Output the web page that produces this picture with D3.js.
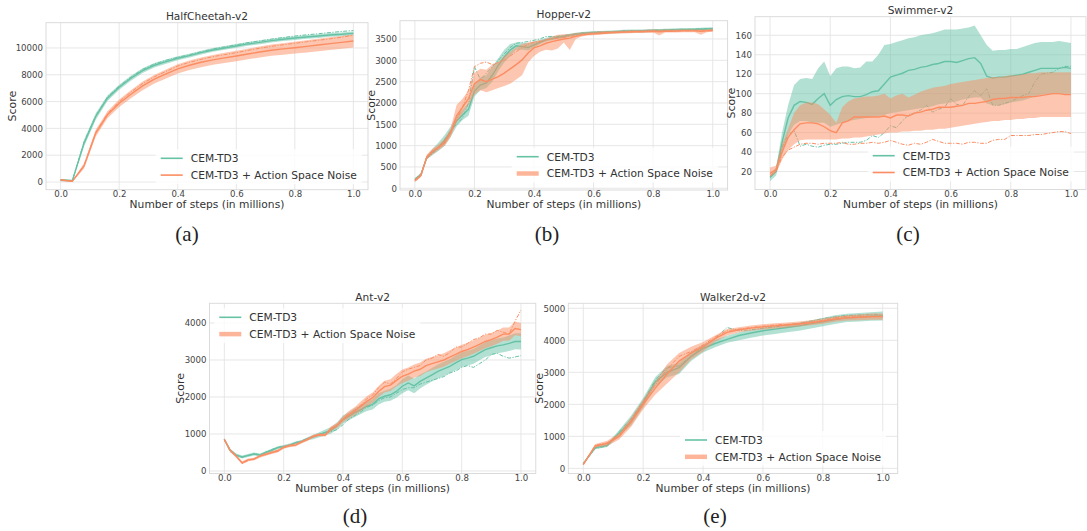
<!DOCTYPE html>
<html>
<head>
<meta charset="utf-8">
<script src="https://cdn.jsdelivr.net/npm/d3@7"></script>
<style>
  body { margin: 0; background: #fff; }
  svg { display: block; }
</style>
</head>
<body>
<svg id="fig" width="1087" height="531"></svg>
<script>
// ---------- data ----------
const seriesNames = ["CEM-TD3", "CEM-TD3 + Action Space Noise"];
const envNames = ["HalfCheetah-v2", "Hopper-v2", "Swimmer-v2", "Ant-v2", "Walker2d-v2"];
const captions = ["(a)", "(b)", "(c)", "(d)", "(e)"];
const xAxisLabel = "Number of steps (in millions)";
const yAxisLabel = "Score";

const xTicks = [0, 0.2, 0.4, 0.6, 0.8, 1.0];
const yTicksCheetah = [0, 2000, 4000, 6000, 8000, 10000];
const yTicksHopper = [0, 500, 1000, 1500, 2000, 2500, 3000, 3500];
const yTicksSwimmer = [20, 40, 60, 80, 100, 120, 140, 160];
const yTicksAnt = [0, 1000, 2000, 3000, 4000];
const yTicksWalker = [0, 1000, 2000, 3000, 4000, 5000];

// evaluation steps (millions)
const stepsCoarse = [0, 0.04, 0.08, 0.12, 0.16, 0.2, 0.24, 0.28, 0.32, 0.36, 0.4, 0.44, 0.48,
  0.52, 0.56, 0.6, 0.64, 0.68, 0.72, 0.76, 0.8, 0.84, 0.88, 0.92, 0.96, 1.0];
const stepsFine = [0, 0.02, 0.04, 0.06, 0.08, 0.1, 0.12, 0.14, 0.16, 0.18,
  0.2, 0.22, 0.24, 0.26, 0.28, 0.3, 0.32, 0.34, 0.36, 0.38,
  0.4, 0.42, 0.44, 0.46, 0.48, 0.5, 0.52, 0.54, 0.56, 0.58,
  0.6, 0.62, 0.64, 0.66, 0.68, 0.7, 0.72, 0.74, 0.76, 0.78,
  0.8, 0.82, 0.84, 0.86, 0.88, 0.9, 0.92, 0.94, 0.96, 0.98, 1.0];

// HalfCheetah-v2
const cheetahTd3Mean = [150,100,2900,4890,6250,7070,7740,8310,8710,8980,9230,9430,9650,9850,10000,10150,10300,10420,10550,10650,10740,10820,10890,10970,11020,11090];
const cheetahTd3Lo = [60,40,2650,4650,6050,6880,7560,8130,8540,8820,9080,9290,9510,9710,9860,10010,10160,10280,10410,10510,10600,10680,10750,10830,10880,10950];
const cheetahTd3Hi = [230,170,3150,5130,6450,7260,7920,8490,8880,9140,9380,9570,9790,9990,10140,10290,10440,10560,10690,10790,10880,10960,11030,11110,11160,11230];
const cheetahTd3Alt = [160,110,3000,4950,6350,7150,7820,8400,8800,9080,9300,9500,9720,9920,10080,10230,10400,10530,10660,10780,10890,10980,11060,11150,11230,11300];
const cheetahNoiseMean = [150,50,1200,3650,5010,5880,6550,7170,7670,8060,8440,8710,8930,9110,9260,9400,9550,9700,9830,9930,10020,10120,10220,10320,10420,10520];
const cheetahNoiseLo = [80,0,1000,3400,4750,5600,6250,6850,7350,7730,8100,8360,8570,8740,8880,9010,9150,9290,9410,9500,9580,9670,9760,9850,9940,10030];
const cheetahNoiseHi = [220,110,1400,3900,5270,6160,6850,7490,7990,8390,8780,9060,9290,9480,9640,9790,9950,10110,10250,10360,10460,10570,10680,10790,10900,11010];
const cheetahNoiseAlt = [150,60,1250,3700,5100,6000,6700,7350,7850,8250,8650,8930,9150,9350,9500,9650,9820,9980,10120,10240,10350,10460,10570,10680,10800,10950];

// Hopper-v2
const hopperTd3Mean = [200,320,720,850,970,1120,1320,1580,1720,1850,
  2280,2420,2470,2650,2880,3080,3240,3340,3320,3300,
  3360,3420,3480,3510,3540,3560,3590,3610,3630,3640,
  3650,3655,3660,3665,3670,3680,3685,3690,3690,3695,
  3700,3700,3705,3710,3715,3720,3720,3725,3730,3735,3740];
const hopperTd3Lo = [170,280,680,780,880,1000,1200,1450,1600,1700,
  2150,2300,2350,2500,2750,2950,3100,3250,3250,3230,
  3300,3380,3440,3470,3500,3525,3555,3575,3595,3605,
  3615,3620,3625,3630,3635,3645,3650,3655,3655,3660,
  3665,3665,3670,3675,3680,3685,3685,3690,3695,3700,3705];
const hopperTd3Hi = [240,360,770,930,1080,1250,1450,1700,1850,2000,
  2450,2600,2650,2850,3050,3250,3380,3420,3420,3400,
  3440,3480,3530,3560,3580,3595,3625,3645,3665,3675,
  3685,3690,3695,3700,3705,3715,3720,3725,3725,3730,
  3735,3735,3740,3745,3750,3755,3755,3760,3765,3770,3775];
const hopperTd3Alt = [220,330,700,820,950,1150,1350,1500,1650,2000,
  2850,2550,2700,2850,3000,3150,3300,3400,3420,3440,
  3470,3500,3560,3560,3560,3580,3600,3620,3640,3650,
  3660,3665,3670,3675,3680,3690,3695,3700,3700,3705,
  3710,3710,3715,3720,3725,3730,3730,3735,3740,3745,3750];
const hopperNoiseMean = [180,300,730,870,960,1080,1300,1700,1900,2100,
  2450,2550,2500,2560,2620,2700,2800,2900,3010,3170,
  3290,3340,3400,3440,3470,3500,3520,3560,3590,3610,
  3620,3630,3640,3650,3655,3660,3665,3670,3670,3675,
  3680,3670,3680,3680,3685,3690,3690,3690,3680,3690,3700];
const hopperNoiseLo = [150,260,680,800,900,1000,1200,1550,1750,1950,
  2200,2300,2250,2300,2350,2400,2450,2550,2650,2950,
  3100,3200,3250,3230,3280,3420,3240,3500,3560,3580,
  3590,3600,3610,3620,3625,3630,3635,3640,3640,3645,
  3650,3580,3650,3650,3655,3660,3660,3660,3600,3660,3670];
const hopperNoiseHi = [220,340,790,930,1030,1160,1400,1950,2100,2300,
  2700,2800,2780,2900,2950,3100,3200,3300,3380,3420,
  3450,3470,3500,3560,3600,3610,3620,3640,3650,3660,
  3670,3680,3685,3690,3695,3700,3705,3710,3710,3715,
  3720,3715,3720,3720,3725,3730,3730,3730,3725,3730,3740];
const hopperNoiseAlt = [170,280,750,880,950,1050,1300,1600,1900,2300,
  2850,2930,2960,2900,2950,3000,3100,3200,3300,3380,
  3420,3440,3480,3500,3520,3540,3560,3580,3600,3620,
  3630,3640,3650,3660,3660,3665,3670,3675,3675,3680,
  3685,3680,3685,3685,3690,3695,3695,3695,3690,3695,3705];

// Swimmer-v2
const swimmerTd3Mean = [14,20,50,75,88,92,91,89,95,100,
  88,94,97,98,97,97,99,102,103,110,
  117,119,121,124,125,127,128,130,131,133,
  133,132,134,136,137,131,118,116,117,117,
  118,119,120,122,124,126,126,126,126,127,126];
const swimmerTd3Lo = [10,16,38,58,68,72,72,70,70,70,
  66,68,70,72,73,74,75,76,77,78,
  80,81,82,83,84,85,86,87,89,90,
  91,92,94,95,96,96,90,88,88,89,
  91,92,93,95,97,99,100,100,100,100,100];
const swimmerTd3Hi = [16,24,60,88,109,115,116,115,126,133,
  118,126,128,128,126,127,133,133,140,150,
  151,153,155,157,158,160,161,162,164,166,
  166,166,167,168,170,160,150,144,145,145,
  146,146,148,150,152,153,153,153,154,153,152];
const swimmerTd3Alt = [14,20,45,58,62,46,48,46,45,47,
  48,48,49,50,50,50,52,57,55,60,
  67,65,72,78,80,83,88,81,84,86,
  95,89,88,97,103,98,105,88,88,90,
  92,95,98,100,112,120,121,122,126,128,128];
const swimmerNoiseMean = [18,22,40,55,63,69,70,70,69,66,
  62,60,70,72,76,76,76,76,76,77,
  75,78,78,77,80,81,83,84,86,86,
  86,87,88,90,90,91,92,94,95,95,
  96,96,96,97,97,98,99,100,100,99,99];
const swimmerNoiseLo = [14,19,32,42,48,52,53,53,53,53,
  53,53,54,54,55,55,56,57,58,59,
  60,60,61,61,62,62,63,63,64,64,
  65,66,67,68,69,70,71,72,72,73,
  73,74,74,75,75,76,76,76,76,76,76];
const swimmerNoiseHi = [24,26,48,64,80,88,91,91,89,84,
  78,70,86,92,95,96,97,97,98,100,
  95,98,100,96,99,102,104,106,107,108,
  110,111,112,113,114,115,116,117,117,118,
  119,119,120,121,121,122,122,122,122,122,122];
const swimmerNoiseAlt = [16,20,35,42,45,48,49,49,48,49,
  49,49,50,48,48,49,49,50,49,50,
  52,50,48,47,49,48,50,53,51,49,
  49,49,48,50,50,49,49,52,53,53,
  57,57,57,57,58,58,59,60,61,61,59];

// Ant-v2
const antTd3Mean = [850,560,430,380,420,460,430,500,560,630,
  660,700,760,800,870,920,980,1040,1100,1220,
  1390,1480,1580,1660,1750,1800,1950,2020,2060,2150,
  2290,2380,2300,2420,2510,2600,2690,2760,2830,2920,
  3010,3050,3100,3190,3280,3330,3380,3410,3450,3500,3500];
const antTd3Lo = [810,520,390,340,380,420,390,460,520,590,
  620,660,720,760,830,860,910,960,1010,1120,
  1280,1370,1460,1540,1620,1660,1800,1870,1900,1980,
  2100,2180,2100,2230,2330,2420,2500,2570,2640,2720,
  2810,2850,2900,2990,3080,3130,3180,3210,3240,3290,3280];
const antTd3Hi = [890,600,470,420,460,500,470,540,600,670,
  700,740,800,840,910,980,1050,1120,1190,1320,
  1500,1590,1700,1780,1880,1940,2100,2170,2220,2320,
  2480,2580,2500,2610,2690,2780,2880,2950,3020,3120,
  3210,3250,3300,3390,3480,3530,3580,3610,3660,3720,3720];
const antTd3Alt = [850,520,420,370,410,470,440,510,580,640,
  670,700,770,810,880,940,990,1040,1060,1120,
  1250,1400,1500,1600,1720,1780,1900,1980,2000,2100,
  2200,2250,2250,2350,2400,2450,2500,2550,2650,2700,
  2800,2850,2800,2900,3000,3150,3180,3100,3050,3080,3120];
const antNoiseMean = [850,550,400,220,300,320,400,450,500,540,
  640,680,700,780,850,940,980,970,1150,1230,
  1400,1520,1620,1750,1880,1980,2150,2280,2320,2450,
  2560,2620,2700,2750,2850,2900,2950,3000,3080,3150,
  3230,3280,3350,3420,3500,3550,3620,3700,3700,3850,3820];
const antNoiseLo = [810,510,360,180,260,280,360,410,460,500,
  600,640,660,740,810,900,940,930,1090,1160,
  1320,1420,1510,1620,1740,1840,2000,2120,2160,2280,
  2380,2440,2520,2570,2670,2720,2770,2820,2900,2970,
  3050,3100,3170,3240,3320,3370,3440,3520,3520,3670,3640];
const antNoiseHi = [890,590,440,260,340,360,440,490,540,580,
  680,720,740,820,890,980,1020,1010,1210,1300,
  1480,1620,1730,1880,2020,2120,2300,2440,2480,2620,
  2740,2800,2880,2930,3030,3080,3130,3180,3260,3330,
  3410,3460,3530,3600,3680,3730,3800,3880,3880,4030,4000];
const antNoiseAlt = [850,560,410,200,280,330,410,440,500,560,
  630,690,720,790,860,920,1000,960,1100,1250,
  1420,1550,1650,1780,1950,2050,2250,2400,2350,2500,
  2680,2750,2800,2850,3000,3050,3150,3100,3200,3350,
  3350,3450,3550,3600,3700,3700,3800,3750,3700,4050,4350];

// Walker2d-v2
const walkerTd3Mean = [150,650,720,1100,1480,2050,2700,3000,3150,3500,3750,3900,4030,4150,4230,4300,4350,4400,4450,4520,4580,4650,4700,4720,4750,4760];
const walkerTd3Lo = [120,600,670,1000,1350,1900,2550,2850,2950,3350,3620,3780,3920,4000,4080,4150,4200,4250,4300,4370,4440,4510,4570,4590,4610,4620];
const walkerTd3Hi = [180,700,780,1200,1650,2200,2850,3200,3300,3650,3870,4020,4140,4250,4330,4400,4450,4500,4550,4620,4700,4780,4830,4850,4880,4900];
const walkerTd3Alt = [150,620,700,1150,1550,2100,2750,3150,3200,3500,3800,4050,4400,4300,4330,4380,4420,4480,4530,4600,4680,4730,4780,4790,4800,4800];
const walkerNoiseMean = [120,700,780,1000,1450,2000,2500,2950,3350,3600,3800,4050,4250,4330,4380,4420,4450,4480,4510,4550,4600,4660,4700,4720,4740,4740];
const walkerNoiseLo = [100,650,700,900,1300,1850,2300,2650,3000,3400,3650,3950,4150,4250,4300,4340,4370,4400,4430,4470,4520,4580,4620,4630,4640,4640];
const walkerNoiseHi = [150,760,860,1100,1600,2150,2700,3250,3600,3800,3950,4150,4350,4410,4460,4500,4530,4560,4590,4630,4680,4740,4780,4810,4840,4840];
const walkerNoiseAlt = [120,720,800,1050,1500,2050,2600,3100,3500,3650,3850,4100,4300,4350,4400,4440,4480,4500,4520,4570,4620,4700,4750,4760,4730,4750];

// ---------- assemble panels ----------
const panels = [
  { steps: stepsCoarse, yTicks: yTicksCheetah,
    series: [
      { mean: cheetahTd3Mean, lo: cheetahTd3Lo, hi: cheetahTd3Hi, alt: cheetahTd3Alt },
      { mean: cheetahNoiseMean, lo: cheetahNoiseLo, hi: cheetahNoiseHi, alt: cheetahNoiseAlt } ] },
  { steps: stepsFine, yTicks: yTicksHopper,
    series: [
      { mean: hopperTd3Mean, lo: hopperTd3Lo, hi: hopperTd3Hi, alt: hopperTd3Alt },
      { mean: hopperNoiseMean, lo: hopperNoiseLo, hi: hopperNoiseHi, alt: hopperNoiseAlt } ] },
  { steps: stepsFine, yTicks: yTicksSwimmer,
    series: [
      { mean: swimmerTd3Mean, lo: swimmerTd3Lo, hi: swimmerTd3Hi, alt: swimmerTd3Alt },
      { mean: swimmerNoiseMean, lo: swimmerNoiseLo, hi: swimmerNoiseHi, alt: swimmerNoiseAlt } ] },
  { steps: stepsFine, yTicks: yTicksAnt,
    series: [
      { mean: antTd3Mean, lo: antTd3Lo, hi: antTd3Hi, alt: antTd3Alt },
      { mean: antNoiseMean, lo: antNoiseLo, hi: antNoiseHi, alt: antNoiseAlt } ] },
  { steps: stepsCoarse, yTicks: yTicksWalker,
    series: [
      { mean: walkerTd3Mean, lo: walkerTd3Lo, hi: walkerTd3Hi, alt: walkerTd3Alt },
      { mean: walkerNoiseMean, lo: walkerNoiseLo, hi: walkerNoiseHi, alt: walkerNoiseAlt } ] }
];

// ---------- layout ----------
const layout = [
  { box: { l: 46, t: 22.7, r: 368, b: 189.7 }, yDomain: [-573, 11884],
    legend: { x: 160.7, y: 158.3, thick: false }, caption: [187, 241] },
  { box: { l: 400, t: 20.7, r: 727.6, b: 190 }, yDomain: [-40, 3929],
    legend: { x: 516.7, y: 156.7, thick: true }, caption: [547, 241] },
  { box: { l: 755, t: 16.7, r: 1086, b: 189.5 }, yDomain: [1.5, 179.1],
    legend: { x: 872.7, y: 155.7, thick: false }, caption: [908, 241] },
  { box: { l: 209.5, t: 303.3, r: 535.8, b: 473.5 }, yDomain: [-68, 4532],
    legend: { x: 219.3, y: 317.3, thick: true }, caption: [355, 523] },
  { box: { l: 568.3, t: 303.3, r: 897.7, b: 473.5 }, yDomain: [-160, 5156],
    legend: { x: 685, y: 440, thick: true }, caption: [715, 523] }
];

const seriesColors = ["#66c2a5", "#fc8d62"];
const sansFont = "'DejaVu Sans', sans-serif";
const textColor = "#333";
const svg = d3.select("#fig");

function drawPanel(panel, lay, idx) {
  const { l, t, r, b } = lay.box;
  const x = d3.scaleLinear().domain([-0.05, 1.05]).range([l, r]);
  const y = d3.scaleLinear().domain(lay.yDomain).range([b, t]);
  const g = svg.append("g");

  // grid
  g.append("g").selectAll("line").data(xTicks).join("line")
    .attr("x1", d => x(d)).attr("x2", d => x(d)).attr("y1", t).attr("y2", b)
    .attr("stroke", "#e4e4e4").attr("stroke-width", 0.9);
  g.append("g").selectAll("line").data(panel.yTicks).join("line")
    .attr("x1", l).attr("x2", r).attr("y1", d => y(d)).attr("y2", d => y(d))
    .attr("stroke", "#e4e4e4").attr("stroke-width", 0.9);
  g.append("rect").attr("x", l).attr("y", t).attr("width", r - l).attr("height", b - t)
    .attr("fill", "none").attr("stroke", "#d8d8d8").attr("stroke-width", 0.9);

  // bands, mean curves and best-run curves
  panel.series.forEach((s, i) => {
    const col = seriesColors[i];
    const pts = panel.steps.map((st, k) => ({ x: st, lo: s.lo[k], hi: s.hi[k], m: s.mean[k], a: s.alt[k] }));
    g.append("path").datum(pts)
      .attr("d", d3.area().x(d => x(d.x)).y0(d => y(d.lo)).y1(d => y(d.hi)))
      .attr("fill", col).attr("fill-opacity", 0.5).attr("stroke", "none");
    g.append("path").datum(pts)
      .attr("d", d3.line().x(d => x(d.x)).y(d => y(d.m)))
      .attr("fill", "none").attr("stroke", col).attr("stroke-width", 1.4);
    g.append("path").datum(pts)
      .attr("d", d3.line().x(d => x(d.x)).y(d => y(d.a)))
      .attr("fill", "none").attr("stroke", col).attr("stroke-width", 1)
      .attr("stroke-dasharray", "4,1.5,1.2,1.5");
  });

  // axes
  const xa = g.append("g").attr("transform", `translate(0,${b})`)
    .call(d3.axisBottom(x).tickValues(xTicks).tickFormat(d3.format(".1f")).tickSize(0).tickPadding(1));
  xa.select(".domain").remove();
  xa.selectAll("text").attr("font-size", 8.6).attr("font-family", sansFont).attr("fill", "#444");

  const ya = g.append("g").attr("transform", `translate(${l},0)`)
    .call(d3.axisLeft(y).tickValues(panel.yTicks).tickFormat(d3.format("d")).tickSize(0).tickPadding(3));
  ya.select(".domain").remove();
  ya.selectAll("text").attr("font-size", 8.6).attr("font-family", sansFont).attr("fill", "#444");
  let maxW = 0;
  ya.selectAll("text").each(function () { maxW = Math.max(maxW, this.getComputedTextLength()); });

  // labels
  g.append("text").attr("x", (l + r) / 2).attr("y", b + 18)
    .attr("text-anchor", "middle").attr("font-size", 10.7).attr("font-family", sansFont)
    .attr("fill", textColor).text(xAxisLabel);
  const yc = (t + b) / 2, xc = l - maxW - 7;
  g.append("text").attr("transform", `translate(${xc},${yc}) rotate(-90)`)
    .attr("text-anchor", "middle").attr("dy", "0.35em").attr("font-size", 11)
    .attr("font-family", sansFont).attr("fill", textColor).text(yAxisLabel);
  g.append("text").attr("x", (l + r) / 2).attr("y", t - 2.3)
    .attr("text-anchor", "middle").attr("font-size", 10.6).attr("font-family", sansFont)
    .attr("fill", textColor).text(envNames[idx]);

  // legend
  const lg = g.append("g");
  const rowGap = 16.8, handleLen = 22, lx = lay.legend.x, ly = lay.legend.y;
  let maxText = 0;
  seriesNames.forEach((name, i) => {
    const yy = ly + i * rowGap;
    const thick = lay.legend.thick && i === 1;
    lg.append("line").attr("x1", lx).attr("x2", lx + handleLen).attr("y1", yy).attr("y2", yy)
      .attr("stroke", seriesColors[i]).attr("stroke-width", thick ? 4.5 : 1.6)
      .attr("stroke-opacity", thick ? 0.65 : 1);
    const tx = lg.append("text").attr("x", lx + handleLen + 8).attr("y", yy).attr("dy", "0.36em")
      .attr("font-size", 10.7).attr("font-family", sansFont).attr("fill", textColor).text(name);
    maxText = Math.max(maxText, tx.node().getComputedTextLength());
  });
  lg.insert("rect", ":first-child")
    .attr("x", lx - 5).attr("y", ly - 9)
    .attr("width", handleLen + 8 + maxText + 10).attr("height", rowGap + 18)
    .attr("fill", "#fff").attr("fill-opacity", 0.8);

  // caption
  svg.append("text").attr("x", lay.caption[0]).attr("y", lay.caption[1])
    .attr("text-anchor", "middle").attr("font-size", 21)
    .attr("font-family", "'Liberation Serif', 'DejaVu Serif', serif")
    .attr("fill", "#222").text(captions[idx]);
}

panels.forEach((p, i) => drawPanel(p, layout[i], i));
</script>
</body>
</html>
